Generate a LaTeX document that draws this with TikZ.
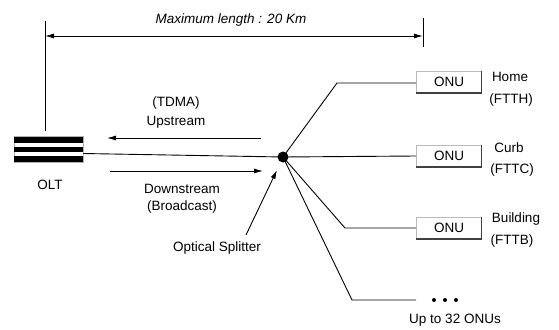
\documentclass[tikz,border=0pt]{standalone}
\usepackage{fontspec}
\setmainfont{Liberation Sans}
\usetikzlibrary{arrows.meta}
\begin{document}
\begin{tikzpicture}[x=1pt,y=-1pt,
  every node/.style={font=\fontsize{13.5}{15}\selectfont, inner sep=0pt},
  wire/.style={line width=0.9pt},
  arr/.style={line width=0.9pt,-{Latex[length=9pt,width=5pt]}},
  onubox/.style={draw=gray!55, fill=white, minimum width=65pt, minimum height=22pt, line width=0.7pt},
  lbl/.style={align=center}
]
\useasboundingbox (0,0) rectangle (559,329);

% dimension
\coordinate (dl) at (45,36);
\coordinate (dr) at (423,36);
\coordinate (lt) at (45,21);
\coordinate (lb) at (45,131);
\coordinate (rt) at (423,18);
\coordinate (rb) at (423,47);
\draw[wire] (lt) -- (lb);
\draw[wire] (rt) -- (rb);
\draw[line width=0.9pt,{Latex[length=9pt,width=5pt]}-{Latex[length=9pt,width=5pt]}] (dl) -- (dr);
\node (title) at (231,20) {\itshape Maximum length : 20 Km};

% OLT
\node[draw=gray!60, line width=0.5pt, minimum width=69pt, minimum height=26pt] (olt) at (48.5,149.5) {};
\fill (14,137) rectangle (83,142.5);
\fill (14,146.5) rectangle (83,152);
\fill (14,156) rectangle (83,161.5);
\node (oltlbl) at (50,185) {OLT};

% splitter
\node[circle, fill=black, minimum size=11pt] (sp) at (283,157) {};
\draw[wire] (olt.east) ++(0,4) coordinate (oltout) -- (sp.center);

% upstream / downstream
\coordinate (us) at (261,138);
\coordinate (ue) at (107,138);
\draw[arr] (us) -- (ue);
\node (tdma) at (176,103) {(TDMA)};
\node (up) at (176,122) {Upstream};
\coordinate (ds) at (110,171);
\coordinate (de) at (263,171);
\draw[arr] (ds) -- (de);
\node (down) at (182,189) {Downstream};
\node (bc) at (182,207) {(Broadcast)};

% optical splitter pointer
\coordinate (ps) at (246,235);
\coordinate (pe) at (277,170);
\draw[arr] (ps) -- (pe);
\node (oslbl) at (217,248) {Optical Splitter};

% ONUs
\foreach \n/\y in {h/82, c/156, b/228}{
  \node[onubox] (onu\n) at (449,\y) {ONU};
  \draw[black!75, line width=1.6pt] ([xshift=-0.5pt]onu\n.north east) -- ([xshift=-0.5pt,yshift=0.5pt]onu\n.south east) -- ([yshift=0.5pt]onu\n.south west);
}
\coordinate (kh) at (337,83);
\coordinate (kb) at (345,228);
\coordinate (kd) at (352,300);
\coordinate (de1) at (416,300);
\draw[wire] (sp.center) -- (kh) -- (onuh.west |- kh);
\draw[wire] (sp.center) -- (onuc.west);
\draw[wire] (sp.center) -- (kb) -- (onub.west);
\draw[wire] (sp.center) -- (kd) -- (de1);
\foreach \x/\nm in {434/d1,445/d2,456/d3}{
  \node[circle, fill=black, minimum size=4pt] (\nm) at (\x,300) {};
}
\node (upto) at (455,320) {Up to 32 ONUs};

% location labels
\node (home) at (510,77) {Home};
\node (ftth) at (511,100) {(FTTH)};
\node (curb) at (509,148) {Curb};
\node (fttc) at (512,170) {(FTTC)};
\node (bldg) at (516,219) {Building};
\node (fttb) at (512,241) {(FTTB)};
\end{tikzpicture}
\end{document}
